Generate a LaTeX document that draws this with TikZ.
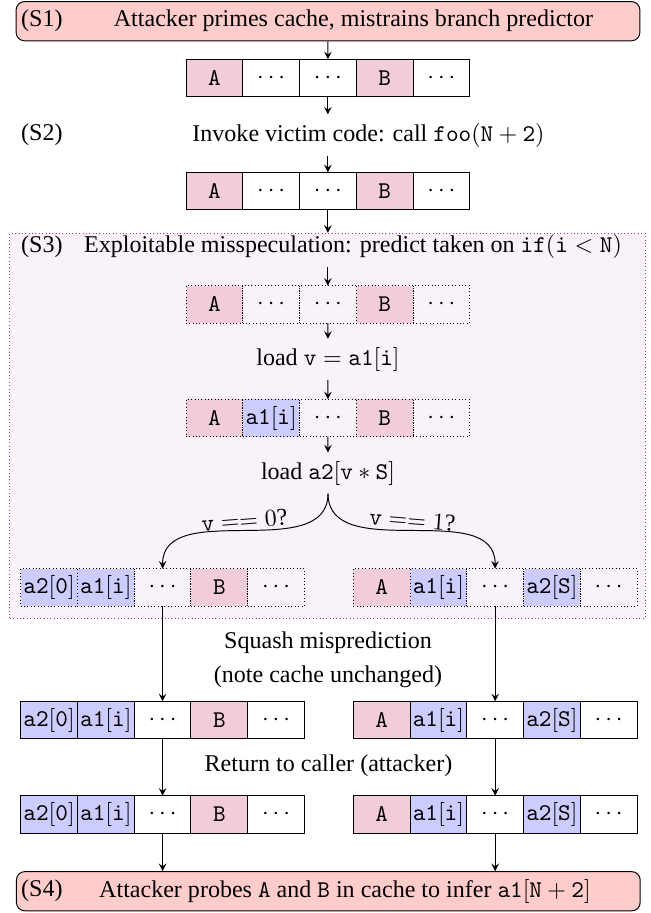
\documentclass[tikz,border=0pt]{standalone}
\usepackage[no-math]{fontspec}
\setmainfont{Liberation Serif}
\usetikzlibrary{positioning}

% one cache line of five cells: name, left x, centre y, style, cells
\newcommand{\cacherow}[5]{%
  \foreach \txt/\col [count=\k] in {#5}
    \node[cell, #4, fill=\col] (#1\k) at ({#2+(\k-0.5)*56.75}, #3) {\txt};
}

\begin{document}
\begin{tikzpicture}[
        x=0.416pt, y=0.416pt,
        cell/.style={draw, minimum width=23.6pt, minimum height=15.55pt, inner sep=0pt, outer sep=0pt},
        specrow/.style={densely dotted},
        stepbox/.style={draw, rounded corners=3.5pt, fill=red!20, minimum width=259.5pt, minimum height=16.3pt, inner sep=0pt},
        steplab/.style={anchor=west, inner sep=0pt},
        branch/.style={above, inner sep=1pt},
        ->, >=stealth
        ]
        \useasboundingbox (0,0) rectangle (651,-913);

        % Define the nodes
        \node[draw=violet!80, densely dotted, fill=violet!5, minimum width=264.2pt, minimum height=160.2pt, inner sep=0pt] (s3) at (327.5,-425.8) {};

        \node[stepbox] (s1) at (328,-21.2) {};
        \node[steplab] (s1lab) at (20.7,-21.2) {(S1)};
        \node (s1txt) at (353.5,-21.2) {Attacker primes cache, mistrains branch predictor};
        \cacherow{prm}{186}{-78}{}{{\texttt{A}}/purple!20, $\cdots$/white, $\cdots$/white, {\texttt{B}}/purple!20, $\cdots$/white}

        \node[steplab] (s2lab) at (20.7,-135) {(S2)};
        \node (s2txt) at (368.5,-135) {Invoke victim code: call $\mathtt{foo}(\mathtt{N}+\mathtt{2})$};
        \cacherow{inv}{186}{-191}{}{{\texttt{A}}/purple!20, $\cdots$/white, $\cdots$/white, {\texttt{B}}/purple!20, $\cdots$/white}

        \node[steplab] (s3lab) at (20.7,-246.7) {(S3)};
        \node (s3txt) at (353,-246.7) {Exploitable misspeculation: predict taken on $\mathtt{if}(\mathtt{i}<\mathtt{N})$};
        \cacherow{mis}{186}{-304.5}{specrow}{{\texttt{A}}/purple!20, $\cdots$/none, $\cdots$/none, {\texttt{B}}/purple!20, $\cdots$/none}
        \node (ldv) at (328,-359.3) {load $\mathtt{v}=\mathtt{a1}[\mathtt{i}]$};
        \cacherow{ldi}{186}{-418}{specrow}{{\texttt{A}}/purple!20, {$\mathtt{a1}[\mathtt{i}]$}/blue!20, $\cdots$/none, {\texttt{B}}/purple!20, $\cdots$/none}
        \node (lds) at (328,-473) {load $\mathtt{a2}[\mathtt{v}*\mathtt{S}]$};
        \cacherow{bz}{20.7}{-587.3}{specrow}{{$\mathtt{a2}[\mathtt{0}]$}/blue!20, {$\mathtt{a1}[\mathtt{i}]$}/blue!20, $\cdots$/none, {\texttt{B}}/purple!20, $\cdots$/none}
        \cacherow{bo}{353.3}{-587.3}{specrow}{{\texttt{A}}/purple!20, {$\mathtt{a1}[\mathtt{i}]$}/blue!20, $\cdots$/none, {$\mathtt{a2}[\mathtt{S}]$}/blue!20, $\cdots$/none}

        \node[align=center] (squash) at (328,-659.5) {Squash misprediction\\[2pt](note cache unchanged)};
        \cacherow{sz}{20.7}{-720}{}{{$\mathtt{a2}[\mathtt{0}]$}/blue!20, {$\mathtt{a1}[\mathtt{i}]$}/blue!20, $\cdots$/white, {\texttt{B}}/purple!20, $\cdots$/white}
        \cacherow{so}{353.3}{-720}{}{{\texttt{A}}/purple!20, {$\mathtt{a1}[\mathtt{i}]$}/blue!20, $\cdots$/white, {$\mathtt{a2}[\mathtt{S}]$}/blue!20, $\cdots$/white}

        \node (ret) at (328.5,-765.7) {Return to caller (attacker)};
        \cacherow{rz}{20.7}{-814.4}{}{{$\mathtt{a2}[\mathtt{0}]$}/blue!20, {$\mathtt{a1}[\mathtt{i}]$}/blue!20, $\cdots$/white, {\texttt{B}}/purple!20, $\cdots$/white}
        \cacherow{ro}{353.3}{-814.4}{}{{\texttt{A}}/purple!20, {$\mathtt{a1}[\mathtt{i}]$}/blue!20, $\cdots$/white, {$\mathtt{a2}[\mathtt{S}]$}/blue!20, $\cdots$/white}

        \node[stepbox] (s4) at (328.3,-891.2) {};
        \node[steplab] (s4lab) at (20.7,-891.2) {(S4)};
        \node (s4txt) at (345,-891.2) {Attacker probes \texttt{A} and \texttt{B} in cache to infer $\mathtt{a1}[\mathtt{N}+\mathtt{2}]$};

        % Draw the arrows
        \draw (s1) -- (prm3);
        \draw (prm3.south) -- (prm3.south |- s2txt.north);
        \draw (inv3.north |- s2txt.south) -- (inv3);
        \draw (inv3) -- (inv3 |- s3.north);
        \draw (mis3.north |- s3txt.south) -- (mis3);
        \draw (mis3) -- (ldv);
        \draw (ldv) -- (ldi3);
        \draw (ldi3) -- (lds);
        \draw (lds.south) to[out=-90, in=90] node[branch, rotate=4.5] {$\mathtt{v}==0$?} (bz3.north);
        \draw (lds.south) to[out=-90, in=90] node[branch, rotate=-4.5] {$\mathtt{v}==1$?} (bo3.north);
        \draw (bz3) -- (sz3);
        \draw (bo3) -- (so3);
        \draw (sz3) -- (rz3);
        \draw (so3) -- (ro3);
        \draw (rz3) -- (rz3 |- s4.north);
        \draw (ro3) -- (ro3 |- s4.north);
    \end{tikzpicture}
\end{document}
